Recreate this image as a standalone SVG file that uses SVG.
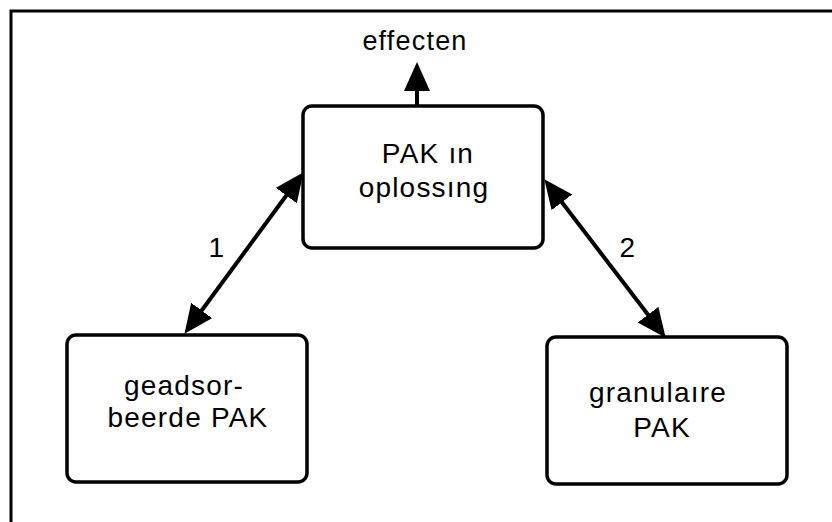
<svg xmlns="http://www.w3.org/2000/svg" width="832" height="522" viewBox="0 0 832 522">
<style>
.box{fill:#fff;stroke:#000;stroke-width:3.5}
.lbl{font-family:"Liberation Sans",Arial,sans-serif;font-size:28px;letter-spacing:1.2px;fill:#000;text-anchor:middle}
.con{stroke:#000;stroke-width:4;fill:none}
</style>
<defs>
<marker id="ah" markerUnits="userSpaceOnUse" markerWidth="32" markerHeight="30" refX="18" refY="13" orient="auto-start-reverse">
<path d="M0,0 L29,13 L0,26 z" fill="#000"/>
</marker>
</defs>
<rect width="832" height="522" fill="#fff"/>
<path d="M11,522 V11 H832" fill="none" stroke="#000" stroke-width="3"/>
<g id="connectors">
<line class="con" x1="417" y1="106" x2="417" y2="73" marker-end="url(#ah)"/>
<line class="con" x1="191" y1="325" x2="297" y2="181" marker-start="url(#ah)" marker-end="url(#ah)"/>
<line class="con" x1="551" y1="188" x2="659" y2="329" marker-start="url(#ah)" marker-end="url(#ah)"/>
<text class="lbl" x="217" y="257">1</text>
<text class="lbl" x="628" y="257">2</text>
</g>
<g id="effecten">
<text class="lbl" x="415" y="50" style="font-size:27px">effecten</text>
</g>
<g id="pak-in-oplossing">
<rect class="box" x="303" y="106" width="240" height="142" rx="9"/>
<text class="lbl" x="428" y="163">PAK ın</text>
<text class="lbl" x="424" y="197">oplossıng</text>
</g>
<g id="geadsorbeerde-pak">
<rect class="box" x="67" y="335" width="240" height="147" rx="9"/>
<text class="lbl" x="184" y="395">geadsor-</text>
<text class="lbl" x="188" y="427">beerde PAK</text>
</g>
<g id="granulaire-pak">
<rect class="box" x="547" y="337" width="240" height="147" rx="9"/>
<text class="lbl" x="658" y="402">granulaıre</text>
<text class="lbl" x="662" y="437">PAK</text>
</g>
</svg>
